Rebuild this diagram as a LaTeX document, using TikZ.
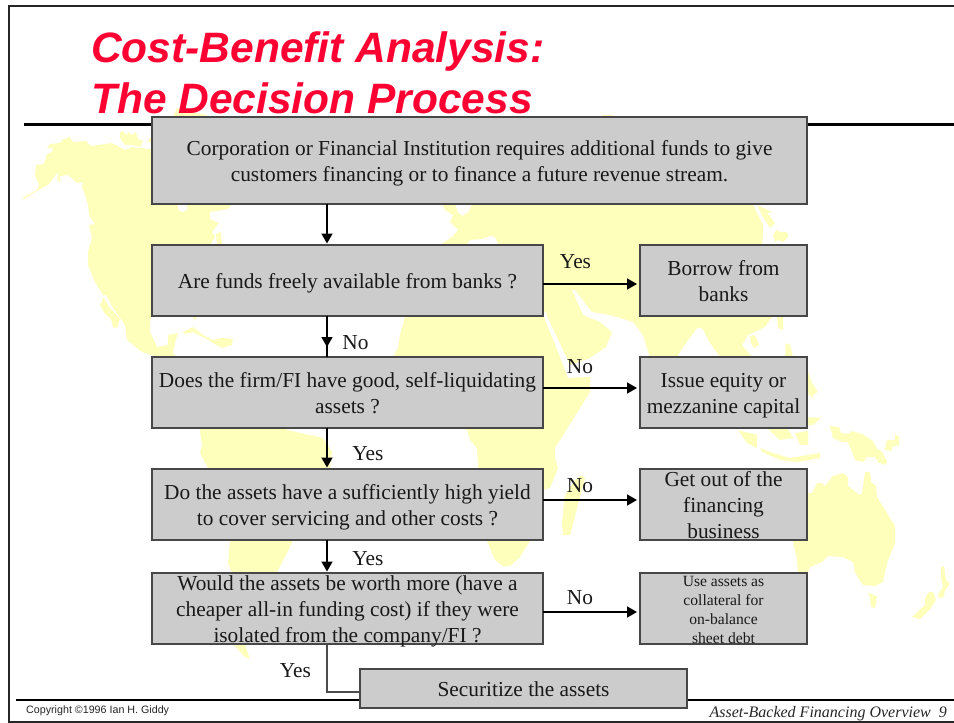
\documentclass[tikz,border=0pt]{standalone}
\usepackage{fontspec}
\setmainfont{Liberation Serif}
\newfontfamily\arialf{Liberation Sans}
\usetikzlibrary{arrows.meta}
\definecolor{landc}{HTML}{FFFFBC}
\definecolor{boxfill}{HTML}{CCCCCC}
\definecolor{boxline}{HTML}{474747}
\definecolor{titlered}{HTML}{FF0033}
\newcommand{\ftop}[1]{\rule{0pt}{#1}}
\tikzset{
  land/.style={fill=landc,draw=none},
  sea/.style={fill=white,draw=none},
  rulel/.style={line width=2.4pt,black},
  framel/.style={line width=2pt,black!85},
  boxnode/.style={draw=boxline,fill=boxfill,line width=1.4pt,inner sep=0pt,outer sep=0pt,align=center,
     text depth=0pt,font=\fontsize{21.35}{26}\selectfont,text=black!90},
  lab/.style={font=\fontsize{21.35}{24}\selectfont,text=black!90,inner sep=0pt},
  arr/.style={line width=1.7pt,black,-{Triangle[length=10pt,width=11pt]}},
  plain/.style={line width=1.7pt,black},
  elbow/.style={line width=1.2pt,black!70},
  titlet/.style={font=\arialf\bfseries\itshape\fontsize{42.5}{51}\selectfont,text=titlered,inner sep=0pt,anchor=base west}
}
\begin{document}
\begin{tikzpicture}[x=1pt,y=-1pt]
\useasboundingbox (0,0) rectangle (954,723);
\fill[white] (0,0) rectangle (954,723);
% map: North America
\fill[land] (22,198)--(37,190)--(39,185)--(35,175)--(36,165)--(44,164)--(47,154)--(52,152)--(53,148)--(47,148)--(50,144)--(60,143)--(62,140)--(70,137)--(73,142)--(86,141)--(91,146)--(112,143)--(125,150)--(132,147)--(140,148)--(160,150)--(232,150)--(232,204)--(228,209)--(210,212)--(210,219)--(219,223)--(212,232)--(215,237)--(210,245)--(205,310)--(152,316)--(150,320)--(150,332)--(157,347)--(168,345)--(168,335)--(178,333)--(175,343)--(173,353)--(180,360)--(200,400)--(200,432)--(202,445)--(200,453)--(208,468)--(228,540)--(230,541)--(228,563)--(232,573)--(234,645)--(245,657)--(250,659)--(245,645)--(277,572)--(287,553)--(292,542)--(330,468)--(332,452)--(323,438)--(287,430)--(220,357)--(155,356)--(142,352)--(127,340)--(125,325)--(113,308)--(106,295)--(103,295)--(95,282)--(88,265)--(88,252)--(92,238)--(90,230)--(89,225)--(95,224)--(89,215)--(88,205)--(85,195)--(82,187)--(83,182)--(77,183)--(68,175)--(60,176)--(60,182)--(57,180)--(58,172)--(48,185)--(37,191)--(24,199)--cycle;
% Baja
\fill[land] (103,297)--(110,308)--(120,319)--(117,328)--(113,327)--(111,319)--(105,314)--(100,305)--(102,301)--cycle;
\fill[land] (120,132)--(123,131)--(126,135)--(129,132)--(132,135)--(136,132)--(138,139)--(143,141)--(140,147)--(133,145)--(125,145)--(120,138)--cycle;
\fill[land] (147,141)--(152,137)--(152,143)--cycle;
\fill[land] (177,108)--(190,112)--(207,115)--(207,118)--(172,118)--cycle;
\fill[land] (216,234)--(221,232)--(222,245)--(217,245)--cycle;
% Caribbean
\fill[land] (183,332)--(193,327)--(203,335)--(213,340)--(222,338)--(233,339)--(232,345)--(222,348)--(213,343)--(205,338)--(193,332)--(185,334)--cycle;
\fill[land] (192,316)--(197,316)--(196,320)--cycle;
\fill[sea] (178,204)--(187,204)--(187,210)--(182,212)--(178,209)--cycle;
% Eurasia and Africa
\fill[land] (442,204)--(450,150)--(600,118)--(603,115)--(612,115)--(615,118)--(740,150)--(753,204)--(757,213)--(763,225)--(763,235)--(762,245)--(772,317)--(765,327)--(748,335)--(742,345)--(752,357)--(730,400)--(720,357)--(710,343)--(702,328)--(697,328)--(683,347)--(677,357)--(665,400)--(650,358)--(643,335)--(633,322)--(610,315)--(592,312)--(575,290)--(572,290)--(583,315)--(600,322)--(612,332)--(606,347)--(590,358)--(570,365)--(548,318)--(546,312)--(543,312)--(545,320)--(558,352)--(568,378)--(590,377)--(590,392)--(555,448)--(555,458)--(558,468)--(550,488)--(543,490)--(530,541)--(520,557)--(510,566)--(503,566)--(495,560)--(487,541)--(478,468)--(477,448)--(470,440)--(467,430)--(420,400)--(393,357)--(398,348)--(400,335)--(405,317)--(440,245)--(452,237)--(458,230)--(450,222)--(453,215)--(445,210)--cycle;
\fill[sea] (467,245)--(470,240)--(483,239)--(490,236)--(495,237)--(498,245)--cycle;
\fill[sea] (455,204)--(472,204)--(468,212)--(462,216)--(458,212)--cycle;
% Asia islands
\fill[land] (757,205)--(772,212)--(767,213)--(775,223)--(770,228)--(763,217)--cycle;
\fill[land] (773,235)--(777,230)--(780,232)--(787,232)--(788,237)--(783,242)--(778,240)--(775,242)--cycle;
\fill[land] (777,317)--(783,317)--(783,330)--(778,328)--cycle;
\fill[land] (750,336)--(755,335)--(759,345)--(754,348)--(751,343)--cycle;
\fill[land] (786,343)--(790,345)--(793,357)--(785,357)--cycle;
\fill[land] (800,369)--(807,369)--(812,383)--(818,392)--(813,395)--(813,399)--(808,393)--cycle;
\fill[land] (800,417)--(821,418)--(813,425)--(800,426)--cycle;
\fill[land] (738,430)--(757,435)--(757,448)--(747,443)--cycle;
\fill[land] (767,428)--(780,440)--(793,438)--(787,428)--cycle;
\fill[land] (795,433)--(808,431)--(808,445)--(800,445)--cycle;
\fill[land] (760,448)--(773,453)--(790,458)--(820,453)--(820,458)--(797,462)--(780,460)--(762,452)--cycle;
\fill[land] (830,426)--(839,427)--(841,433)--(848,434)--(852,431)--(862,434)--(873,441)--(877,449)--(882,452)--(887,462)--(885,465)--(878,462)--(875,457)--(867,457)--(863,462)--(855,460)--(848,442)--(842,442)--(833,438)--cycle;
\fill[land] (886,442)--(888,440)--(895,440)--(895,434)--(899,437)--(899,445)--(893,446)--(891,451)--(885,450)--cycle;
% Madagascar
\fill[land] (582,475)--(585,478)--(570,535)--(563,535)--(562,522)--(565,495)--(575,480)--cycle;
% Australia
\fill[land] (790,500)--(807,493)--(812,493)--(817,483)--(822,483)--(825,486)--(833,476)--(843,473)--(848,477)--(848,486)--(857,493)--(861,495)--(863,487)--(865,472)--(870,472)--(871,482)--(876,486)--(877,497)--(895,526)--(895,543)--(888,560)--(886,568)--(883,582)--(875,586)--(863,585)--(855,573)--(853,562)--(843,557)--(828,556)--(822,562)--(810,567)--(807,575)--(798,575)--(797,560)--(793,541)--cycle;
\fill[land] (868,593)--(877,596)--(876,602)--(875,608)--(871,607)--(870,598)--cycle;
\fill[land] (941,567)--(944,566)--(946,580)--(950,584)--(945,590)--(944,597)--(939,598)--(938,594)--(943,587)--(941,577)--cycle;
\fill[land] (929,592)--(933,592)--(936,600)--(931,608)--(920,619)--(912,617)--(925,605)--(925,598)--cycle;
% frame and rules
\draw[framel] (954,5.5) -- (8.5,5.5) -- (8.5,721.5) -- (954,721.5);
\draw[rulel] (24,124.5) -- (954,124.5);
\draw[line width=2pt,black] (16,700) -- (954,700);
% title
\node[titlet] (t1) at (91,62) {Cost-Benefit Analysis:};
\node[titlet] (t2) at (91,113) {The Decision Process};
% footers
\node[font=\arialf\fontsize{10.7}{12}\selectfont,text=black!85,inner sep=0pt,anchor=base west] (cr) at (26,713) {Copyright ©1996 Ian H. Giddy};
\node[font=\itshape\fontsize{16}{18}\selectfont,text=black!85,inner sep=0pt,anchor=base east] (pg) at (947,717) {Asset-Backed Financing Overview\ \ 9};
% boxes
\node[boxnode,minimum width=655pt,minimum height=87pt] (b1) at (479.5,160.5) {\ftop{15pt}Corporation or Financial Institution requires additional funds to give\\customers financing or to finance a future revenue stream.};
\node[boxnode,minimum width=391pt,minimum height=71pt] (b2) at (347.5,280.5) {\ftop{15pt}Are funds freely available from banks ?};
\node[boxnode,minimum width=391pt,minimum height=71pt] (b3) at (347.5,392.5) {\ftop{15pt}Does the firm/FI have good, self-liquidating\\assets ?};
\node[boxnode,minimum width=391pt,minimum height=71pt] (b4) at (347.5,504.5) {\ftop{15pt}Do the assets have a sufficiently high yield\\to cover servicing and other costs ?};
\node[boxnode,minimum width=391pt,minimum height=71pt] (b5) at (347.5,608.5) {\ftop{15pt}Would the assets be worth more (have a\\cheaper all-in funding cost) if they were\\isolated from the company/FI ?};
\node[boxnode,minimum width=167pt,minimum height=71pt] (r2) at (723.5,280.5) {\ftop{15pt}Borrow from\\banks};
\node[boxnode,minimum width=167pt,minimum height=71pt] (r3) at (723.5,392.5) {\ftop{15pt}Issue equity or\\mezzanine capital};
\node[boxnode,minimum width=167pt,minimum height=71pt] (r4) at (723.5,504.5) {\ftop{15pt}Get out of the\\financing\\business};
\node[boxnode,minimum width=167pt,minimum height=71pt,font=\fontsize{15.6}{19}\selectfont] (r5) at (723.5,608.5) {\ftop{13pt}Use assets as\\collateral for\\on-balance\\sheet debt};
\node[boxnode,minimum width=327pt,minimum height=39pt] (s) at (523.5,688.5) {\ftop{15pt}Securitize the assets};
% connectors
\draw[arr,shorten >=1.5pt] ([xshift=-152.5pt]b1.south) -- ([xshift=-20.5pt]b2.north);
\draw[plain] ([xshift=-20.5pt]b2.south) -- ([xshift=-20.5pt]b3.north);
\draw[arr] ([xshift=-20.5pt]b2.south) -- ([xshift=-20.5pt,yshift=10pt]b3.north);
\draw[arr,shorten >=1.5pt] ([xshift=-20.5pt]b3.south) -- ([xshift=-20.5pt]b4.north);
\draw[arr,shorten >=1.5pt] ([xshift=-20.5pt]b4.south) -- ([xshift=-20.5pt]b5.north);
\draw[elbow] ([xshift=-20.5pt]b5.south) |- ([yshift=-3.5pt]s.west);
\draw[arr,shorten >=3pt] ([yshift=-3.5pt]b2.east) -- ([yshift=-3.5pt]r2.west);
\draw[arr,shorten >=3pt] ([yshift=4.5pt]b3.east) -- ([yshift=4.5pt]r3.west);
\draw[arr,shorten >=3pt] ([yshift=4.5pt]b4.east) -- ([yshift=4.5pt]r4.west);
\draw[arr,shorten >=3pt] ([yshift=-3.5pt]b5.east) -- ([yshift=-3.5pt]r5.west);
% labels
\node[lab] (l1) at (575.5,262) {Yes};
\node[lab] (l2) at (355.5,342.5) {No};
\node[lab] (l3) at (580,367) {No};
\node[lab] (l4) at (368,454) {Yes};
\node[lab] (l5) at (580,486) {No};
\node[lab] (l6) at (368,559) {Yes};
\node[lab] (l7) at (580,598) {No};
\node[lab] (l8) at (295.5,671) {Yes};
\end{tikzpicture}
\end{document}
